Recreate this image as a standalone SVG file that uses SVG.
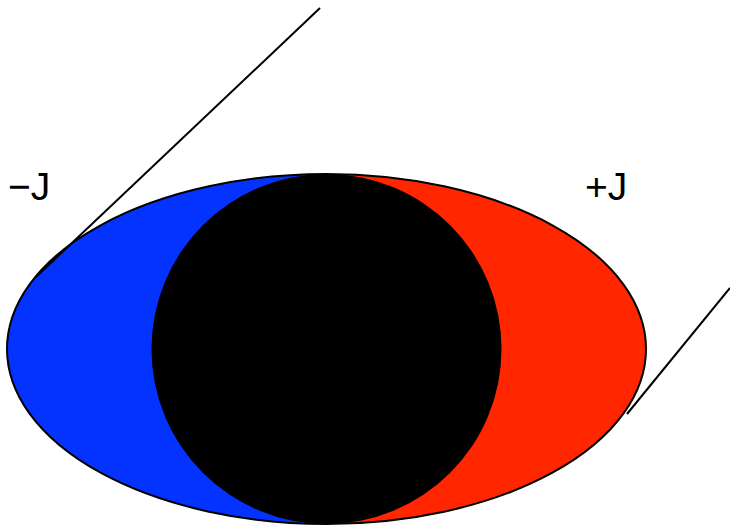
<svg xmlns="http://www.w3.org/2000/svg" width="730" height="527" viewBox="0 0 730 527">
<style>
.lbl{font-family:"Liberation Sans",Arial,sans-serif;font-size:39px;fill:#000}
.ln{stroke:#000;stroke-width:2;fill:none}
</style>
<defs>
<clipPath id="ec"><ellipse cx="326.5" cy="349" rx="319.5" ry="175"/></clipPath>
</defs>
<g id="body">
<g clip-path="url(#ec)">
<rect x="0" y="170" width="327" height="360" fill="#0433ff"/>
<rect x="326.5" y="170" width="330" height="360" fill="#ff2600"/>
</g>
<circle cx="326.5" cy="349" r="175" fill="#000"/>
<ellipse cx="326.5" cy="349" rx="319.5" ry="175" class="ln"/>
</g>
<g id="connectors">
<line x1="320" y1="8" x2="36" y2="277" class="ln"/>
<line x1="730" y1="288" x2="627" y2="414" class="ln"/>
</g>
<g id="labels">
<text class="lbl" x="8" y="200">−J</text>
<text class="lbl" x="585" y="200">+J</text>
</g>
</svg>
